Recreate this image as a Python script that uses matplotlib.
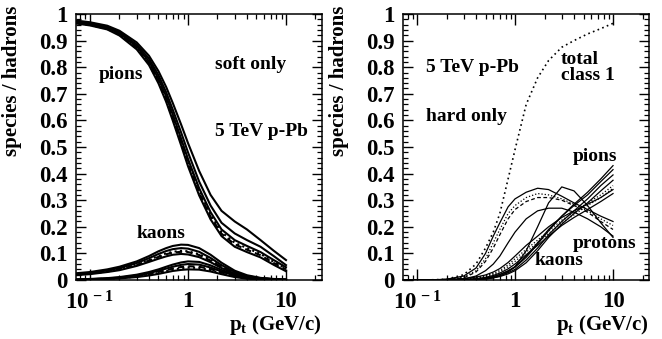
#! /usr/bin/env python
#coding=utf8

'''
Species fractions vs pt for 5 TeV p-Pb, soft and hard components.
'''

import numpy as np
import matplotlib
matplotlib.use('Agg')
from matplotlib import rc, rcParams
import matplotlib.pyplot as plt
from matplotlib.ticker import LogLocator, FixedLocator, FixedFormatter, MultipleLocator

# Plot parameters {{{
rc('font', family='serif', weight='bold')
rc('font', serif=['Liberation Serif', 'DejaVu Serif'])
rcParams['axes.labelweight'] = 'bold'
rcParams['mathtext.fontset'] = 'custom'
rcParams['mathtext.rm'] = 'Liberation Serif:bold'
rcParams['mathtext.bf'] = 'Liberation Serif:bold'
rcParams['mathtext.it'] = 'Liberation Serif:bold'
rc('axes', linewidth=1.1)
#}}}

# common pt grid (GeV/c)
pt = [0.07, 0.1, 0.15, 0.2, 0.3, 0.4, 0.5, 0.6, 0.7, 0.85, 1.0, 1.3, 1.7, 2.2, 3.0, 4.0, 5.5, 7.5, 10.0]

# soft component, pions
soft_pi_a = [0.976, 0.969, 0.956, 0.937, 0.893, 0.843, 0.785, 0.725, 0.665, 0.585, 0.515, 0.41, 0.32, 0.26, 0.22, 0.19, 0.15, 0.11, 0.075]
soft_pi_b = [0.973, 0.966, 0.952, 0.932, 0.885, 0.832, 0.77, 0.705, 0.64, 0.555, 0.48, 0.37, 0.28, 0.215, 0.175, 0.15, 0.125, 0.09, 0.056]
soft_pi_c = [0.970, 0.962, 0.948, 0.927, 0.878, 0.822, 0.757, 0.69, 0.622, 0.532, 0.455, 0.345, 0.255, 0.19, 0.15, 0.128, 0.105, 0.075, 0.048]
soft_pi_d = [0.968, 0.960, 0.946, 0.924, 0.874, 0.817, 0.75, 0.682, 0.613, 0.523, 0.445, 0.335, 0.245, 0.18, 0.14, 0.12, 0.098, 0.068, 0.043]
soft_pi_e = [0.967, 0.959, 0.944, 0.922, 0.871, 0.813, 0.745, 0.676, 0.607, 0.516, 0.438, 0.328, 0.238, 0.174, 0.134, 0.114, 0.093, 0.064, 0.040]
soft_pi_f = [0.965, 0.957, 0.942, 0.919, 0.867, 0.808, 0.739, 0.669, 0.599, 0.507, 0.428, 0.318, 0.228, 0.165, 0.125, 0.105, 0.085, 0.057, 0.033]

# soft component, kaons
soft_k_a = [0.025, 0.030, 0.040, 0.050, 0.070, 0.090, 0.108, 0.120, 0.128, 0.133, 0.132, 0.120, 0.095, 0.065, 0.035, 0.018, 0.008, 0.004, 0.002]
soft_k_b = [0.022, 0.027, 0.036, 0.045, 0.064, 0.082, 0.098, 0.109, 0.116, 0.120, 0.118, 0.106, 0.083, 0.056, 0.030, 0.015, 0.007, 0.003, 0.001]
soft_k_c = [0.020, 0.025, 0.033, 0.042, 0.059, 0.076, 0.090, 0.100, 0.106, 0.110, 0.108, 0.097, 0.076, 0.051, 0.027, 0.013, 0.006, 0.003, 0.001]
soft_k_d = [0.019, 0.024, 0.032, 0.040, 0.057, 0.073, 0.087, 0.097, 0.103, 0.106, 0.105, 0.094, 0.073, 0.049, 0.026, 0.013, 0.006, 0.003, 0.001]
soft_k_e = [0.018, 0.022, 0.030, 0.037, 0.053, 0.068, 0.080, 0.089, 0.095, 0.098, 0.096, 0.086, 0.067, 0.045, 0.024, 0.012, 0.005, 0.002, 0.001]

# soft component, protons
soft_p_a = [0.002, 0.004, 0.007, 0.011, 0.020, 0.030, 0.040, 0.050, 0.058, 0.066, 0.070, 0.068, 0.055, 0.038, 0.020, 0.009, 0.004, 0.002, 0.001]
soft_p_b = [0.002, 0.003, 0.006, 0.009, 0.017, 0.026, 0.035, 0.043, 0.050, 0.057, 0.060, 0.058, 0.047, 0.032, 0.017, 0.008, 0.003, 0.001, 0.000]
soft_p_c = [0.001, 0.003, 0.005, 0.008, 0.015, 0.022, 0.030, 0.037, 0.043, 0.049, 0.052, 0.050, 0.041, 0.028, 0.015, 0.007, 0.003, 0.001, 0.000]
soft_p_d = [0.001, 0.002, 0.004, 0.007, 0.013, 0.020, 0.027, 0.033, 0.039, 0.044, 0.047, 0.045, 0.037, 0.025, 0.013, 0.006, 0.002, 0.001, 0.000]
soft_p_e = [0.001, 0.002, 0.004, 0.006, 0.011, 0.017, 0.023, 0.029, 0.034, 0.038, 0.040, 0.039, 0.032, 0.022, 0.011, 0.005, 0.002, 0.001, 0.000]

# hard / total for class 1
total_hard = [0.0, 0.0, 0.001, 0.003, 0.02, 0.06, 0.12, 0.18, 0.25, 0.38, 0.49, 0.66, 0.76, 0.825, 0.875, 0.90, 0.925, 0.945, 0.965]

# hard component, pions
hard_pi_a = [0, 0, 0, 0, 0.001, 0.003, 0.007, 0.013, 0.020, 0.033, 0.048, 0.085, 0.135, 0.185, 0.24, 0.285, 0.33, 0.38, 0.43]
hard_pi_b = [0, 0, 0, 0, 0.001, 0.003, 0.007, 0.013, 0.021, 0.035, 0.050, 0.090, 0.140, 0.190, 0.24, 0.280, 0.32, 0.37, 0.415]
hard_pi_c = [0, 0, 0, 0, 0.001, 0.002, 0.005, 0.010, 0.016, 0.027, 0.040, 0.075, 0.120, 0.170, 0.22, 0.260, 0.305, 0.355, 0.395]
hard_pi_d = [0, 0, 0, 0, 0.001, 0.002, 0.004, 0.008, 0.013, 0.023, 0.035, 0.065, 0.110, 0.160, 0.21, 0.250, 0.29, 0.335, 0.375]

# hard component, kaons
hard_k_a = [0, 0, 0, 0.001, 0.002, 0.005, 0.010, 0.017, 0.026, 0.042, 0.060, 0.095, 0.130, 0.165, 0.205, 0.235, 0.265, 0.295, 0.325]
hard_k_b = [0, 0, 0, 0.001, 0.003, 0.007, 0.013, 0.021, 0.031, 0.050, 0.070, 0.105, 0.140, 0.175, 0.215, 0.245, 0.280, 0.310, 0.345]
hard_k_c = [0, 0, 0.001, 0.002, 0.004, 0.009, 0.016, 0.025, 0.036, 0.057, 0.080, 0.115, 0.150, 0.185, 0.225, 0.255, 0.290, 0.320, 0.355]
hard_k_d = [0, 0, 0.001, 0.002, 0.005, 0.011, 0.019, 0.030, 0.043, 0.066, 0.090, 0.130, 0.165, 0.200, 0.235, 0.260, 0.285, 0.310, 0.340]

# hard component, protons
hard_p_a = [0, 0, 0.001, 0.003, 0.015, 0.045, 0.100, 0.165, 0.215, 0.275, 0.305, 0.330, 0.345, 0.340, 0.315, 0.290, 0.265, 0.240, 0.220]
hard_p_b = [0, 0, 0.001, 0.002, 0.011, 0.035, 0.080, 0.140, 0.190, 0.250, 0.280, 0.310, 0.325, 0.320, 0.305, 0.285, 0.260, 0.230, 0.205]
hard_p_c = [0, 0, 0, 0.002, 0.008, 0.030, 0.070, 0.120, 0.170, 0.230, 0.265, 0.295, 0.310, 0.310, 0.300, 0.280, 0.255, 0.220, 0.190]
hard_p_d = [0, 0, 0, 0.001, 0.004, 0.015, 0.035, 0.060, 0.090, 0.140, 0.180, 0.230, 0.260, 0.270, 0.270, 0.255, 0.230, 0.200, 0.165]
hard_p_e = [0, 0, 0, 0, 0.001, 0.002, 0.004, 0.008, 0.015, 0.030, 0.050, 0.110, 0.200, 0.290, 0.350, 0.335, 0.280, 0.215, 0.160]

solid = '-'
dotted = (0, (1, 1.6))
dashed = (0, (3, 2))

left_lines = [
    (soft_pi_a, solid), (soft_pi_b, solid), (soft_pi_c, solid),
    (soft_pi_d, dotted), (soft_pi_e, dashed), (soft_pi_f, solid),
    (soft_k_a, solid), (soft_k_b, solid), (soft_k_c, dotted),
    (soft_k_d, dashed), (soft_k_e, solid),
    (soft_p_a, solid), (soft_p_b, solid), (soft_p_c, dashed),
    (soft_p_d, dotted), (soft_p_e, solid),
]
right_lines = [
    (hard_pi_a, solid), (hard_pi_b, solid), (hard_pi_c, solid), (hard_pi_d, solid),
    (hard_k_a, solid), (hard_k_b, dotted), (hard_k_c, dotted), (hard_k_d, solid),
    (hard_p_a, solid), (hard_p_b, dotted), (hard_p_c, dashed), (hard_p_d, solid),
    (hard_p_e, solid),
]

fig = plt.figure('figure', figsize=(6.62, 3.39), dpi=100)
ax1 = fig.add_axes([0.1148, 0.174, 0.3716, 0.7847])
ax2 = fig.add_axes([0.6088, 0.174, 0.3716, 0.7847])

def setup_axes(ax):
    ax.set_xscale('log')
    ax.set_xlim(0.072, 23.3)
    ax.set_ylim(0., 1.)
    ax.xaxis.set_major_locator(FixedLocator([0.1, 1., 10.]))
    ax.xaxis.set_major_formatter(FixedFormatter([r'$\mathbf{10^{\,-1}}$', '1', '10']))
    ax.xaxis.set_minor_locator(LogLocator(base=10., subs=np.arange(2, 10), numticks=20))
    ax.yaxis.set_minor_locator(MultipleLocator(0.02))
    ax.set_yticks(np.arange(0, 1.01, 0.1))
    ax.set_yticklabels(['0', '0.1', '0.2', '0.3', '0.4', '0.5', '0.6', '0.7', '0.8', '0.9', '1'])
    ax.tick_params(which='both', direction='in', top=True, right=True)
    ax.tick_params(axis='y', which='major', length=7, width=1., pad=6, labelsize=16.5)
    ax.tick_params(axis='x', which='major', length=8, width=1., pad=8, labelsize=16.5)
    ax.tick_params(which='minor', length=3.5, width=0.9)
    ax.set_ylabel('species / hadrons', fontsize=15, loc='top')
    ax.yaxis.set_label_coords(-0.22, 1.03)
    ax.set_xlabel(r'$\mathbf{p_{t}}$ (GeV/c)', fontsize=15, loc='right')
    ax.xaxis.set_label_coords(1.0, -0.125)

setup_axes(ax1)
setup_axes(ax2)

# soft only
for y, ls in left_lines:
    ax1.plot(pt, y, color='k', lw=1.5, ls=ls)

txt = dict(fontsize=14, fontweight='bold', va='center')
ax1.text(0.207, 0.771, 'pions', ha='center', **txt)
ax1.text(1.89, 0.812, 'soft only', ha='left', **txt)
ax1.text(1.89, 0.56, '5 TeV p-Pb', ha='left', **txt)
ax1.text(0.53, 0.173, 'kaons', ha='center', **txt)

# hard only
ax2.plot(pt, total_hard, color='k', lw=1.2, ls=(0, (1, 2)))
for y, ls in right_lines:
    ax2.plot(pt, y, color='k', lw=0.9, ls=ls)

ax2.text(0.124, 0.80, '5 TeV p-Pb', ha='left', **txt)
ax2.text(0.124, 0.613, 'hard only', ha='left', **txt)
ax2.text(2.95, 0.83, 'total', ha='left', **txt)
ax2.text(2.95, 0.77, 'class 1', ha='left', **txt)
ax2.text(3.91, 0.466, 'pions', ha='left', **txt)
ax2.text(3.91, 0.139, 'protons', ha='left', **txt)
ax2.text(1.6, 0.075, 'kaons', ha='left', **txt)

fig.savefig('out.png', dpi=100)
